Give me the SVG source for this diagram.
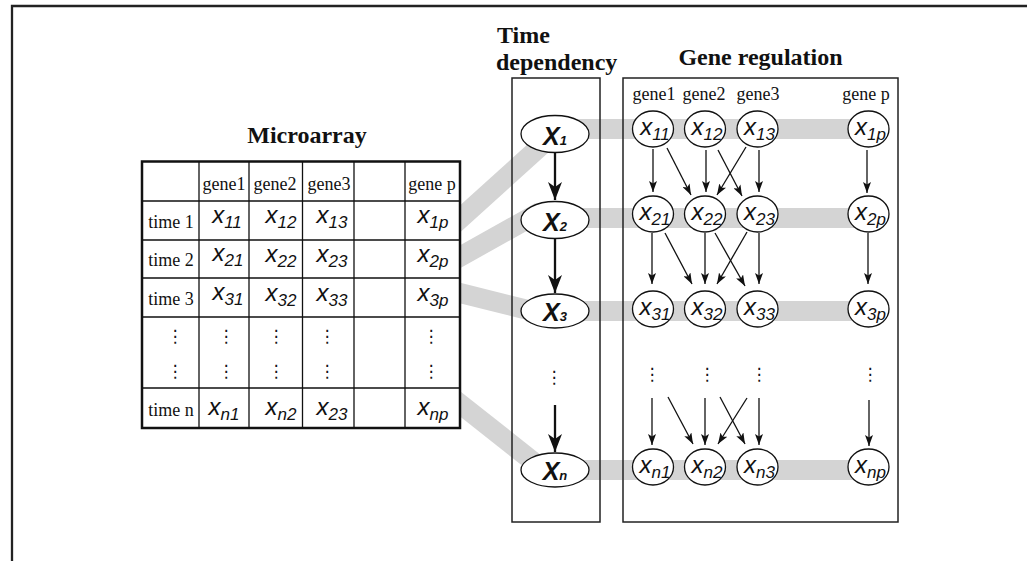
<svg xmlns="http://www.w3.org/2000/svg" width="1027" height="561" viewBox="0 0 1027 561">
  <style>
    .title { font-family: "Liberation Serif", "Times New Roman", serif; font-weight: bold; font-size: 24px; fill: #111; }
    .lbl { font-family: "Liberation Serif", "Times New Roman", serif; font-size: 18px; fill: #111; }
    .var { font-family: "Liberation Sans", Arial, sans-serif; font-style: italic; font-size: 24px; fill: #111; }
    .var tspan { font-size: 17px; }
    .tdv { font-family: "Liberation Sans", Arial, sans-serif; font-style: italic; font-weight: bold; font-size: 25px; fill: #111; }
    .tdv tspan { font-size: 13px; }
    .dots { font-family: "DejaVu Sans", sans-serif; font-size: 17px; fill: #111; }
    .grid { stroke: #111; stroke-width: 1.3; fill: none; }
    .band { stroke: #d4d4d4; stroke-width: 20; fill: none; stroke-linecap: butt; }
    .box { stroke: #222; stroke-width: 1.5; fill: none; }
    .node { stroke: #111; stroke-width: 1.3; fill: #fff; }
    .edge { stroke: #111; stroke-width: 1.3; fill: none; marker-end: url(#tip); }
    .tedge { stroke: #111; stroke-width: 2.3; fill: none; marker-end: url(#bigtip); }
  </style>
  <defs>
    <marker id="tip" markerUnits="userSpaceOnUse" markerWidth="11" markerHeight="8" refX="11" refY="4" orient="auto">
      <path d="M0,0 L11,4 L0,8 L2.5,4 z" fill="#111"/>
    </marker>
    <marker id="bigtip" markerUnits="userSpaceOnUse" markerWidth="18" markerHeight="14" refX="18" refY="7" orient="auto">
      <path d="M0,0 L18,7 L0,14 L5,7 z" fill="#111"/>
    </marker>
  </defs>

  <rect width="1027" height="561" fill="#fff"/>

  <!-- outer frame -->
  <path d="M12,561 V6 H1027" stroke="#222" stroke-width="2.3" fill="none"/>

  <!-- grey bands linking rows of the table to the time nodes and gene rows -->
  <g id="bands">
    <line class="band" x1="440" y1="237" x2="555" y2="133"/>
    <line class="band" x1="440" y1="268" x2="540" y2="212"/>
    <line class="band" x1="440" y1="288" x2="540" y2="313"/>
    <line class="band" x1="440" y1="388" x2="540" y2="467"/>
    <line class="band" x1="555" y1="129" x2="868" y2="129"/>
    <line class="band" x1="555" y1="218" x2="868" y2="218"/>
    <line class="band" x1="555" y1="311" x2="868" y2="311"/>
    <line class="band" x1="555" y1="470" x2="868" y2="470"/>
  </g>

  <!-- microarray table -->
  <g id="microarray">
    <text class="title" x="307" y="143" text-anchor="middle">Microarray</text>
    <rect x="142" y="161.5" width="318" height="266.5" fill="#fff" stroke="#111" stroke-width="2.5"/>
    <path class="grid" d="M199,161.5 V428 M249,161.5 V428 M302.5,161.5 V428 M354,161.5 V428 M405,161.5 V428
                          M142,201 H460 M142,240 H460 M142,278 H460 M142,317 H460 M142,388 H460"/>
    <text class="lbl" x="224" y="190" text-anchor="middle">gene1</text>
    <text class="lbl" x="275" y="190" text-anchor="middle">gene2</text>
    <text class="lbl" x="329" y="190" text-anchor="middle">gene3</text>
    <text class="lbl" x="432" y="190" text-anchor="middle">gene p</text>
    <text class="lbl" x="171" y="228" text-anchor="middle">time 1</text>
    <text class="lbl" x="171" y="266" text-anchor="middle">time 2</text>
    <text class="lbl" x="171" y="305" text-anchor="middle">time 3</text>
    <text class="lbl" x="171" y="416" text-anchor="middle">time n</text>

    <text class="var" x="227" y="223" text-anchor="middle">x<tspan dy="5">11</tspan></text>
    <text class="var" x="281" y="223" text-anchor="middle">x<tspan dy="5">12</tspan></text>
    <text class="var" x="332" y="223" text-anchor="middle">x<tspan dy="5">13</tspan></text>
    <text class="var" x="433" y="223" text-anchor="middle">x<tspan dy="5">1p</tspan></text>

    <text class="var" x="228" y="261" text-anchor="middle">x<tspan dy="5">21</tspan></text>
    <text class="var" x="281" y="262" text-anchor="middle">x<tspan dy="5">22</tspan></text>
    <text class="var" x="332" y="262" text-anchor="middle">x<tspan dy="5">23</tspan></text>
    <text class="var" x="433" y="262" text-anchor="middle">x<tspan dy="5">2p</tspan></text>

    <text class="var" x="228" y="300" text-anchor="middle">x<tspan dy="5">31</tspan></text>
    <text class="var" x="281" y="301" text-anchor="middle">x<tspan dy="5">32</tspan></text>
    <text class="var" x="332" y="301" text-anchor="middle">x<tspan dy="5">33</tspan></text>
    <text class="var" x="433" y="301" text-anchor="middle">x<tspan dy="5">3p</tspan></text>

    <text class="var" x="224" y="415" text-anchor="middle">x<tspan dy="5">n1</tspan></text>
    <text class="var" x="281" y="415" text-anchor="middle">x<tspan dy="5">n2</tspan></text>
    <text class="var" x="332" y="415" text-anchor="middle">x<tspan dy="5">23</tspan></text>
    <text class="var" x="433" y="415" text-anchor="middle">x<tspan dy="5">np</tspan></text>

    <g class="dots" text-anchor="middle">
      <text x="175" y="342">⋮</text><text x="226" y="342">⋮</text><text x="276" y="342">⋮</text><text x="327" y="342">⋮</text><text x="431" y="342">⋮</text>
      <text x="175" y="377">⋮</text><text x="226" y="377">⋮</text><text x="276" y="377">⋮</text><text x="327" y="377">⋮</text><text x="431" y="377">⋮</text>
    </g>
  </g>

  <!-- time dependency panel -->
  <g id="time-dependency">
    <text class="title" x="497" y="43">Time</text>
    <text class="title" x="496" y="70">dependency</text>
    <rect class="box" x="512" y="78" width="88" height="444"/>
  </g>

  <!-- gene regulation panel -->
  <g id="gene-regulation">
    <text class="title" x="760.5" y="65" text-anchor="middle">Gene regulation</text>
    <rect class="box" x="623" y="78" width="275" height="444"/>
    <text class="lbl" x="654" y="100" text-anchor="middle">gene1</text>
    <text class="lbl" x="704" y="100" text-anchor="middle">gene2</text>
    <text class="lbl" x="758" y="100" text-anchor="middle">gene3</text>
    <text class="lbl" x="866" y="100" text-anchor="middle">gene p</text>
  </g>

  <!-- connectors -->
  <g id="connectors">
    <line class="tedge" x1="555" y1="152" x2="555" y2="200"/>
    <line class="tedge" x1="555" y1="238" x2="555" y2="293"/>
    <line class="tedge" x1="555" y1="405" x2="555" y2="452"/>

    <line class="edge" x1="653" y1="149" x2="653" y2="192"/>
    <line class="edge" x1="667" y1="148" x2="691" y2="195"/>
    <line class="edge" x1="706" y1="150" x2="706" y2="192"/>
    <line class="edge" x1="718" y1="150" x2="742" y2="196"/>
    <line class="edge" x1="746" y1="147" x2="717" y2="195"/>
    <line class="edge" x1="759" y1="150" x2="759" y2="192"/>
    <line class="edge" x1="867" y1="150" x2="867" y2="193"/>

    <line class="edge" x1="652" y1="233" x2="652" y2="284"/>
    <line class="edge" x1="665" y1="233" x2="692" y2="284"/>
    <line class="edge" x1="705" y1="233" x2="705" y2="284"/>
    <line class="edge" x1="715" y1="233" x2="745" y2="286"/>
    <line class="edge" x1="747" y1="232" x2="717" y2="284"/>
    <line class="edge" x1="759" y1="233" x2="759" y2="284"/>
    <line class="edge" x1="868" y1="233" x2="868" y2="284"/>

    <line class="edge" x1="652" y1="398" x2="652" y2="445"/>
    <line class="edge" x1="668" y1="397" x2="693" y2="444"/>
    <line class="edge" x1="705" y1="398" x2="705" y2="445"/>
    <line class="edge" x1="720" y1="397" x2="745" y2="444"/>
    <line class="edge" x1="747" y1="398" x2="718" y2="444"/>
    <line class="edge" x1="759" y1="398" x2="759" y2="445"/>
    <line class="edge" x1="869" y1="400" x2="869" y2="446"/>
  </g>

  <!-- time nodes -->
  <g id="X1"><ellipse class="node" cx="555" cy="134" rx="34" ry="18.5"/><text class="tdv" x="555" y="145" text-anchor="middle">X<tspan>1</tspan></text></g>
  <g id="X2"><ellipse class="node" cx="555" cy="220" rx="34" ry="18.5"/><text class="tdv" x="555" y="231" text-anchor="middle">X<tspan>2</tspan></text></g>
  <g id="X3"><ellipse class="node" cx="555" cy="311" rx="34" ry="17"/><text class="tdv" x="555" y="321" text-anchor="middle">X<tspan>3</tspan></text></g>
  <text class="dots" x="554" y="383" text-anchor="middle">⋮</text>
  <g id="Xn"><ellipse class="node" cx="555" cy="470" rx="34" ry="17"/><text class="tdv" x="555" y="480" text-anchor="middle">X<tspan>n</tspan></text></g>

  <!-- gene nodes -->
  <g id="x11"><ellipse class="node" cx="653" cy="129" rx="20.5" ry="18"/><text class="var" x="655" y="135" text-anchor="middle">x<tspan dy="5">11</tspan></text></g>
  <g id="x12"><ellipse class="node" cx="705" cy="129" rx="20.5" ry="18"/><text class="var" x="707" y="135" text-anchor="middle">x<tspan dy="5">12</tspan></text></g>
  <g id="x13"><ellipse class="node" cx="757.5" cy="129" rx="20.5" ry="18"/><text class="var" x="759.5" y="135" text-anchor="middle">x<tspan dy="5">13</tspan></text></g>
  <g id="x1p"><ellipse class="node" cx="868.5" cy="129" rx="20.5" ry="18"/><text class="var" x="870.5" y="135" text-anchor="middle">x<tspan dy="5">1p</tspan></text></g>

  <g id="x21"><ellipse class="node" cx="653" cy="214" rx="20.5" ry="18"/><text class="var" x="655" y="220" text-anchor="middle">x<tspan dy="5">21</tspan></text></g>
  <g id="x22"><ellipse class="node" cx="705" cy="214" rx="20.5" ry="18"/><text class="var" x="707" y="220" text-anchor="middle">x<tspan dy="5">22</tspan></text></g>
  <g id="x23"><ellipse class="node" cx="757.5" cy="214" rx="20.5" ry="18"/><text class="var" x="759.5" y="220" text-anchor="middle">x<tspan dy="5">23</tspan></text></g>
  <g id="x2p"><ellipse class="node" cx="868.5" cy="214" rx="20.5" ry="18"/><text class="var" x="870.5" y="220" text-anchor="middle">x<tspan dy="5">2p</tspan></text></g>

  <g id="x31"><ellipse class="node" cx="653" cy="309" rx="20.5" ry="18"/><text class="var" x="655" y="315" text-anchor="middle">x<tspan dy="5">31</tspan></text></g>
  <g id="x32"><ellipse class="node" cx="705" cy="309" rx="20.5" ry="18"/><text class="var" x="707" y="315" text-anchor="middle">x<tspan dy="5">32</tspan></text></g>
  <g id="x33"><ellipse class="node" cx="757.5" cy="309" rx="20.5" ry="18"/><text class="var" x="759.5" y="315" text-anchor="middle">x<tspan dy="5">33</tspan></text></g>
  <g id="x3p"><ellipse class="node" cx="868.5" cy="309" rx="20.5" ry="18"/><text class="var" x="870.5" y="315" text-anchor="middle">x<tspan dy="5">3p</tspan></text></g>

  <g class="dots" text-anchor="middle">
    <text x="652" y="380">⋮</text><text x="707" y="380">⋮</text><text x="759" y="380">⋮</text><text x="870" y="380">⋮</text>
  </g>

  <g id="xn1"><ellipse class="node" cx="653" cy="467" rx="20.5" ry="18"/><text class="var" x="655" y="473" text-anchor="middle">x<tspan dy="5">n1</tspan></text></g>
  <g id="xn2"><ellipse class="node" cx="705" cy="467" rx="20.5" ry="18"/><text class="var" x="707" y="473" text-anchor="middle">x<tspan dy="5">n2</tspan></text></g>
  <g id="xn3"><ellipse class="node" cx="757.5" cy="467" rx="20.5" ry="18"/><text class="var" x="759.5" y="473" text-anchor="middle">x<tspan dy="5">n3</tspan></text></g>
  <g id="xnp"><ellipse class="node" cx="868.5" cy="467" rx="20.5" ry="18"/><text class="var" x="870.5" y="473" text-anchor="middle">x<tspan dy="5">np</tspan></text></g>
</svg>
